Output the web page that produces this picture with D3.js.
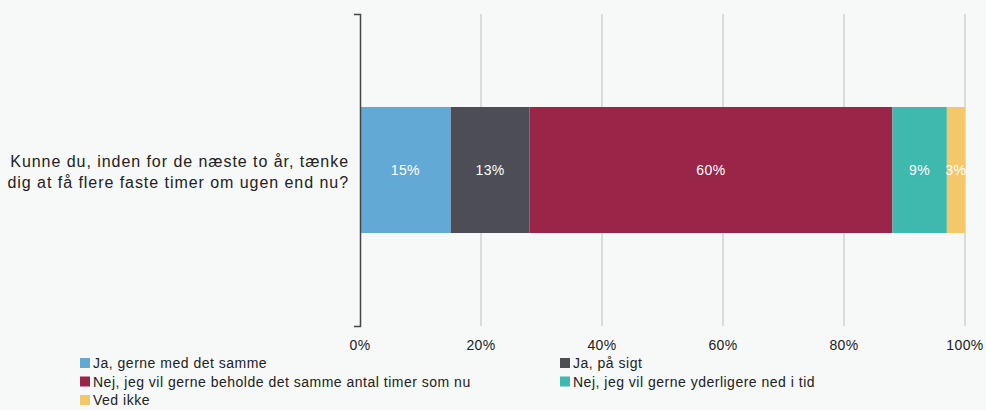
<!DOCTYPE html>
<html lang="da">
<head>
    <meta charset="UTF-8">
    <title>Faste timer</title>
    <script src="https://d3js.org/d3.v7.min.js"></script>
    <style>
        body { margin: 0; background: #f7f8f8; }
        svg { font-family: "Liberation Sans", Arial, sans-serif; }
    </style>
</head>
<body>
    <svg id="chart"></svg>
    <script>
        // Data
        var question = ["Kunne du, inden for de næste to år, tænke", "dig at få flere faste timer om ugen end nu?"];
        var answers = ["Ja, gerne med det samme", "Ja, på sigt",
            "Nej, jeg vil gerne beholde det samme antal timer som nu",
            "Nej, jeg vil gerne yderligere ned i tid", "Ved ikke"];
        var shares = [15, 13, 60, 9, 3];
        var colors = ["#63a9d6", "#4d4e55", "#9b2548", "#3fb8ad", "#f3c76a"];
        var ticks = [0, 20, 40, 60, 80, 100];

        var W = 986, H = 410;
        var svg = d3.select("#chart").attr("width", W).attr("height", H);

        var x = d3.scaleLinear().domain([0, 100]).range([360, 965]);
        var y = d3.scaleBand().domain(["q"]).range([14, 326]).paddingInner(0).paddingOuter(0.738);

        // gridlines
        svg.append("g")
            .selectAll("line")
            .data(ticks.slice(1))
            .enter().append("line")
            .attr("x1", d => x(d)).attr("x2", d => x(d))
            .attr("y1", 14).attr("y2", 326)
            .attr("stroke", "#c8c8c8").attr("stroke-width", 1.2);

        // stacked segments
        var starts = [];
        shares.reduce((acc, v) => { starts.push(acc); return acc + v; }, 0);

        var seg = svg.append("g").selectAll("g")
            .data(shares)
            .enter().append("g");

        seg.append("rect")
            .attr("x", (d, i) => x(starts[i]))
            .attr("width", (d, i) => x(starts[i] + d) - x(starts[i]))
            .attr("y", y("q"))
            .attr("height", y.bandwidth())
            .attr("fill", (d, i) => colors[i]);

        seg.append("text")
            .attr("x", (d, i) => (x(starts[i]) + x(starts[i] + d)) / 2)
            .attr("y", y("q") + y.bandwidth() / 2 + 5)
            .attr("text-anchor", "middle")
            .attr("fill", "#fff")
            .attr("font-size", 14)
            .attr("letter-spacing", 0.4)
            .text(d => d + "%");

        // left axis line with end ticks
        var yAxis = svg.append("g").attr("stroke", "#444").attr("fill", "none");
        yAxis.append("path")
            .attr("d", "M354,14.5H360.5V326.5H354")
            .attr("stroke-width", 1.5);

        // x tick labels
        svg.append("g")
            .selectAll("text")
            .data(ticks)
            .enter().append("text")
            .attr("x", d => x(d))
            .attr("y", 350)
            .attr("text-anchor", "middle")
            .attr("font-size", 14)
            .attr("letter-spacing", 0.4)
            .attr("fill", "#222")
            .text(d => d + "%");

        // category label
        svg.append("text")
            .attr("text-anchor", "end")
            .attr("font-size", 16)
            .attr("letter-spacing", 0.95)
            .attr("fill", "#222")
            .selectAll("tspan")
            .data(question)
            .enter().append("tspan")
            .attr("x", 349)
            .attr("y", (d, i) => 167 + i * 21)
            .text(d => d);

        // legend, two columns
        var leg = svg.append("g").selectAll("g")
            .data(answers)
            .enter().append("g")
            .attr("transform", (d, i) => "translate(" + (i % 2 ? 560 : 80) + "," + (358 + Math.floor(i / 2) * 18.5) + ")");
        leg.append("rect")
            .attr("width", 10).attr("height", 10)
            .attr("fill", (d, i) => colors[i]);
        leg.append("text")
            .attr("x", 13).attr("y", 10)
            .attr("font-size", 14)
            .attr("letter-spacing", 0.5)
            .attr("fill", "#222")
            .text(d => d);
    </script>
</body>
</html>
